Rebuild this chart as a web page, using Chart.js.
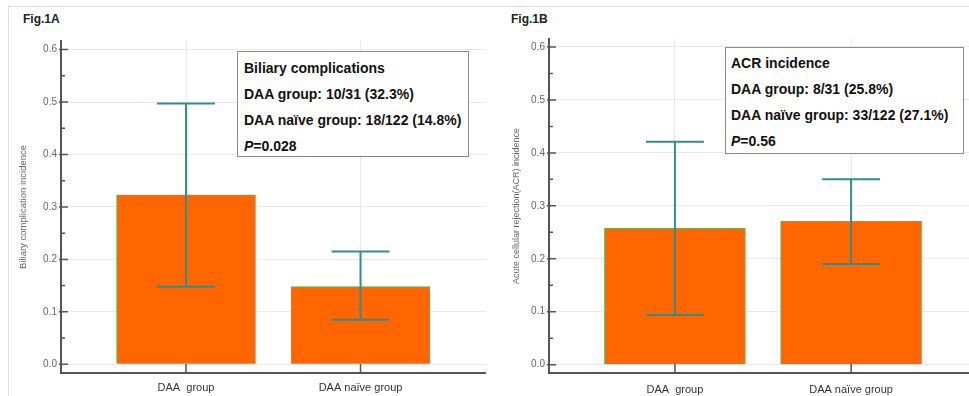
<!DOCTYPE html>
<html>
<head>
<meta charset="utf-8">
<script src="https://cdn.jsdelivr.net/npm/chart.js@4"></script>
<style>
  body { margin: 0; background: #fff; width: 969px; height: 396px; overflow: hidden; position: relative; font-family: "Liberation Sans", Arial, sans-serif; }
  .frame { position: absolute; left: 8px; top: 6px; width: 980px; height: 400px; border-top: 1px solid #dedede; border-left: 1px solid #dedede; }
  .fig { position: absolute; font: bold 12px "Liberation Sans", Arial, sans-serif; color: #222; }
  .cv { position: absolute; }
  .note { position: absolute; border: 1px solid #8a8a8a; background: #fff; font: bold 14px "Liberation Sans", Arial, sans-serif; color: #111; box-sizing: border-box; }
  .note div { height: 26px; line-height: 26px; white-space: nowrap; }
</style>
</head>
<body>
<div class="frame"></div>
<div class="fig" style="left:23px;top:12px">Fig.1A</div>
<div class="fig" style="left:511px;top:12px">Fig.1B</div>

<div class="cv" style="left:9px;top:7px;width:477px;height:389px"><canvas id="chartA"></canvas></div>
<div class="cv" style="left:490px;top:7px;width:490px;height:389px"><canvas id="chartB"></canvas></div>

<div class="note" style="left:237px;top:51px;width:232px;height:106px;padding:3px 0 0 6px">
  <div>Biliary complications</div>
  <div>DAA group: 10/31 (32.3%)</div>
  <div>DAA naïve group: 18/122 (14.8%)</div>
  <div><i>P</i>=0.028</div>
</div>
<div class="note" style="left:725px;top:47px;width:239px;height:107px;padding:2px 0 0 5px">
  <div>ACR incidence</div>
  <div>DAA group: 8/31 (25.8%)</div>
  <div>DAA naïve group: 33/122 (27.1%)</div>
  <div><i>P</i>=0.56</div>
</div>

<script>
// categories and values
const groups = ['DAA  group', 'DAA naïve group'];
const groupPos = [1, 2];
const yTicks = [0, 0.1, 0.2, 0.3, 0.4, 0.5, 0.6];

const biliaryRate = [0.323, 0.148];
const biliaryLow = [0.148, 0.085];
const biliaryHigh = [0.497, 0.215];

const acrRate = [0.258, 0.271];
const acrLow = [0.094, 0.190];
const acrHigh = [0.421, 0.350];

const orange = '#ff6600';
const teal = '#2f8f8f';
const axisCol = '#555';
const gridCol = '#e8e8e8';

// error bars with caps, drawn through the chart scales
const errorBars = {
  id: 'errorBars',
  afterDatasetsDraw(chart, args, opts) {
    const ctx = chart.ctx, xs = chart.scales.x, ys = chart.scales.y;
    ctx.save();
    ctx.strokeStyle = teal;
    ctx.lineWidth = 2;
    opts.low.forEach((lo, i) => {
      const x = xs.getPixelForValue(groupPos[i]);
      const y1 = ys.getPixelForValue(lo), y2 = ys.getPixelForValue(opts.high[i]);
      ctx.beginPath();
      ctx.moveTo(x, y1); ctx.lineTo(x, y2);
      ctx.moveTo(x - 29, y1); ctx.lineTo(x + 29, y1);
      ctx.moveTo(x - 29, y2); ctx.lineTo(x + 29, y2);
      ctx.stroke();
    });
    ctx.restore();
  }
};

// inward tick marks like the original stats package
const innerTicks = {
  id: 'innerTicks',
  afterDraw(chart) {
    const ctx = chart.ctx, xs = chart.scales.x, ys = chart.scales.y;
    const a = chart.chartArea;
    ctx.save();
    ctx.strokeStyle = axisCol;
    ctx.lineWidth = 1.5;
    ctx.beginPath();
    yTicks.forEach((v, i) => {
      const y = ys.getPixelForValue(v);
      ctx.moveTo(a.left - 2, y); ctx.lineTo(a.left + 7, y);
      if (i < yTicks.length - 1) {
        const ym = ys.getPixelForValue(v + 0.05);
        ctx.moveTo(a.left, ym); ctx.lineTo(a.left + 4, ym);
      }
    });
    groupPos.forEach(p => {
      const x = xs.getPixelForValue(p);
      ctx.moveTo(x, a.bottom); ctx.lineTo(x, a.bottom - 9);
    });
    ctx.stroke();
    ctx.restore();
  }
};

function makeChart(id, vals, low, high, cfg) {
  return new Chart(document.getElementById(id), {
    type: 'bar',
    data: {
      datasets: [{
        data: vals.map((v, i) => ({ x: groupPos[i], y: v })),
        backgroundColor: orange,
        borderColor: '#5fb45a',
        borderWidth: 1,
        barThickness: cfg.barW
      }]
    },
    options: {
      responsive: true,
      maintainAspectRatio: false,
      animation: false,
      layout: { padding: { top: cfg.padTop, right: cfg.padRight, left: 0, bottom: 0 } },
      plugins: {
        legend: { display: false },
        tooltip: { enabled: false },
        errorBars: { low: low, high: high }
      },
      scales: {
        x: {
          type: 'linear',
          min: cfg.xMin, max: cfg.xMax,
          offset: false,
          afterBuildTicks: s => { s.ticks = groupPos.map(v => ({ value: v })); },
          afterFit: s => { s.height = 23; },
          grid: { color: gridCol, offset: false, drawTicks: false },
          border: { color: axisCol, width: 2 },
          ticks: {
            padding: cfg.xPad,
            color: '#333',
            font: { family: '"Liberation Sans", Arial', size: 11 },
            callback: v => groups[groupPos.indexOf(v)] || ''
          }
        },
        y: {
          min: cfg.yMin, max: cfg.yMax,
          afterBuildTicks: s => { s.ticks = yTicks.map(v => ({ value: v })); },
          afterFit: s => { s.width = cfg.yW; },
          grid: { color: gridCol, drawTicks: false },
          border: { color: axisCol, width: 2 },
          ticks: {
            padding: 4,
            color: '#666',
            font: { family: '"Liberation Sans", Arial', size: 10 },
            callback: v => v.toFixed(1)
          },
          title: {
            display: true,
            text: cfg.title,
            color: '#666',
            padding: { top: cfg.titlePad, bottom: 0 },
            font: { family: '"Liberation Sans", Arial', size: cfg.titleSize }
          }
        }
      }
    },
    plugins: [errorBars, innerTicks]
  });
}

makeChart('chartA', biliaryRate, biliaryLow, biliaryHigh, {
  title: 'Biliary complication incidence', titleSize: 9.5, titlePad: 9,
  xMin: 0.2837, xMax: 2.719, yMin: -0.0166, yMax: 0.6164,
  yW: 52, padTop: 34, padRight: 0, xPad: 8, barW: 139
});

makeChart('chartB', acrRate, acrLow, acrHigh, {
  title: 'Acute cellular rejection(ACR) incidence', titleSize: 9, titlePad: 21,
  xMin: 0.2853, xMax: 2.7147, yMin: -0.0157, yMax: 0.6151,
  yW: 59, padTop: 32, padRight: 3, xPad: 10, barW: 141
});
</script>
</body>
</html>
